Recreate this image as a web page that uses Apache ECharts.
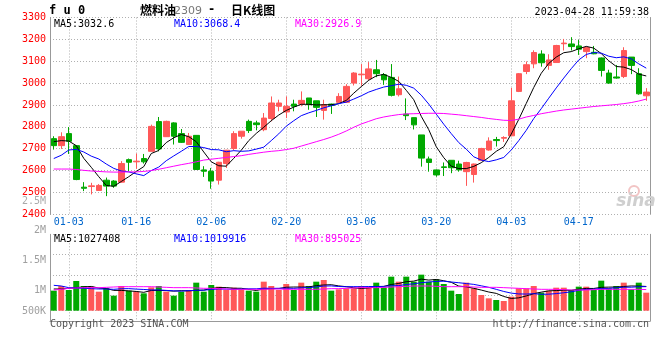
<!DOCTYPE html>
<html><head><meta charset="utf-8">
<script src="https://cdn.jsdelivr.net/npm/echarts@6/dist/echarts.min.js"></script>
<style>html,body{margin:0;padding:0;background:#fff}#c{width:660px;height:360px}</style>
</head><body><div id="c"></div>
<script>
// ---- data ----
const dates = ['12-29','12-30',
'01-03','01-04','01-05','01-06','01-09','01-10','01-11','01-12','01-13',
'01-16','01-17','01-18','01-19','01-20','01-30','01-31',
'02-01','02-02','02-03','02-06','02-07','02-08','02-09','02-10',
'02-13','02-14','02-15','02-16','02-17','02-20','02-21','02-22','02-23','02-24','02-27','02-28',
'03-01','03-02','03-03','03-06','03-07','03-08','03-09','03-10','03-13','03-14','03-15','03-16','03-17',
'03-20','03-21','03-22','03-23','03-24','03-27','03-28','03-29','03-30','03-31',
'04-03','04-04','04-06','04-07','04-10','04-11','04-12','04-13','04-14','04-17','04-18','04-19','04-20','04-21','04-24','04-25','04-26','04-27','04-28'];
const dateTickLabels = ['01-03','01-16','02-06','02-20','03-06','03-20','04-03','04-17'];

const opens = [2746,2714,2769,2714,2524,2527,2509,2556,2552,2547,
2650,2640,2655,2688,2824,2755,2818,2769,2719,2761,
2603,2597,2556,2632,2701,2757,2825,2818,2787,2838,
2894,2868,2904,2904,2932,2919,2875,2904,2912,2912,
3000,3038,3020,3061,3038,3026,2947,2858,2842,2763,
2653,2603,2617,2647,2630,2595,2582,2647,2694,2742,
2748,2759,2962,3053,3088,3133,3081,3094,3180,3179,
3170,3144,3141,3115,3046,3028,3030,3119,3043,2942];
const closes = [2714,2755,2734,2559,2519,2530,2532,2529,2529,2632,
2638,2643,2640,2802,2699,2825,2757,2729,2757,2605,
2597,2552,2638,2693,2769,2780,2783,2810,2840,2909,
2909,2894,2894,2921,2901,2889,2901,2898,2939,2985,
3046,3041,3065,3043,3015,2944,2974,2851,2809,2657,
2637,2580,2614,2613,2603,2637,2630,2701,2735,2737,
2751,2919,3043,3084,3140,3093,3106,3172,3183,3167,
3155,3163,3134,3058,3000,3023,3149,3081,2951,2959];
const lows = [2696,2699,2676,2556,2506,2491,2507,2483,2521,2544,
2597,2608,2632,2688,2688,2754,2719,2726,2719,2603,
2571,2517,2536,2612,2692,2746,2772,2784,2780,2825,
2871,2840,2871,2894,2878,2845,2833,2859,2909,2909,
2989,2988,3012,3027,2992,2939,2939,2831,2788,2618,
2595,2572,2575,2588,2595,2530,2545,2643,2691,2710,
2731,2757,2959,3041,3068,3075,3061,3094,3149,3149,
3129,3114,3132,3030,2997,3020,3023,3041,2947,2919];
const highs = [2757,2775,2799,2716,2547,2544,2538,2568,2556,2643,
2655,2678,2676,2810,2845,2828,2821,2790,2772,2761,
2620,2612,2640,2695,2780,2780,2833,2828,2863,2939,
2924,2939,2924,2962,2932,2919,2924,2906,2954,2995,
3050,3087,3096,3106,3046,3087,3030,2930,2843,2763,
2664,2605,2637,2647,2645,2640,2632,2704,2752,2754,
2757,2978,3046,3099,3150,3150,3132,3175,3202,3210,
3198,3167,3170,3117,3061,3083,3164,3119,3068,2977];

const ma5 = [2732,2737,2735,2714,2656,2615,2572,2532,2528,2550,
2572,2596,2618,2678,2692,2728,2750,2765,2755,2732,
2685,2640,2622,2620,2656,2693,2737,2770,2798,2828,
2854,2875,2890,2903,2903,2900,2901,2901,2906,2921,
2954,2984,3013,3033,3040,3026,3008,2967,2924,2848,
2787,2709,2659,2620,2609,2609,2619,2636,2660,2688,
2709,2767,2834,2907,2980,3045,3090,3119,3139,3144,
3157,3168,3160,3135,3102,3076,3073,3062,3041,3032.6];
const ma10 = [2655,2670,2694,2697,2685,2666,2653,2630,2610,2598,
2594,2585,2577,2600,2616,2645,2667,2688,2710,2710,
2705,2696,2695,2686,2691,2688,2690,2698,2707,2737,
2768,2803,2828,2851,2864,2875,2887,2896,2906,2913,
2927,2942,2959,2971,2982,2988,2995,2990,2977,2945,
2904,2858,2812,2769,2728,2698,2663,2648,2641,2649,
2660,2694,2737,2784,2838,2883,2931,2978,3023,3066,
3106,3131,3140,3137,3123,3116,3120,3111,3088,3068.4];
const ma30 = [2607,2607,2607,2605,2601,2598,2596,2594,2593,2593,
2594,2594,2596,2600,2606,2613,2620,2627,2633,2640,
2648,2652,2656,2660,2664,2668,2674,2679,2684,2688,
2691,2696,2702,2712,2722,2732,2742,2753,2766,2781,
2798,2813,2825,2837,2845,2851,2856,2859,2860,2861,
2862,2862,2861,2858,2855,2851,2847,2843,2838,2834,
2830,2829,2835,2845,2852,2860,2866,2872,2877,2881,
2885,2889,2893,2896,2899,2902,2906,2911,2918,2926.9];

// volume, thousands of lots
const vol = [849,1047,877,1258,1047,1018,806,948,637,1047,
849,806,736,990,1047,806,637,806,877,1188,
806,1089,1018,877,976,906,849,806,1230,1047,
877,1131,877,1188,1047,1230,1301,849,906,948,
948,1047,990,1188,990,1442,1230,1442,1230,1527,
1230,1329,1131,849,708,1188,948,665,524,453,
411,595,948,948,1047,764,849,976,976,877,
1018,1018,877,1272,948,1047,1188,906,1188,764];
const vma5 = [920,920,948,976,1007,1028,958,942,861,861,
839,815,778,858,858,852,830,849,840,863,
873,942,979,979,951,950,904,856,921,936,
937,994,1003,1003,1007,1063,1090,1101,1050,1017,
970,938,966,1013,1028,1111,1155,1229,1254,1338,
1297,1324,1269,1204,1043,1013,949,874,792,734,
603,518,545,626,722,787,840,854,867,864,
912,944,942,990,999,1003,1025,1048,1042,1027.408];
const vma10 = [1075,1047,976,962,948,934,920,920,906,930,
935,915,900,880,880,860,840,830,850,865,
868,900,922,915,908,914,928,928,955,945,
950,955,945,970,980,1005,1045,1050,1025,1015,
1020,1015,1025,1025,1030,1055,1065,1110,1140,1185,
1215,1240,1250,1215,1185,1150,1115,1055,990,905,
815,745,710,705,720,695,700,725,760,800,
865,905,910,940,945,970,995,995,1015,1019.916];
const vma30 = [877,906,948,962,976,976,976,990,1004,1018,
1018,1018,1018,1018,1004,990,976,976,976,962,
948,948,934,920,906,906,906,906,906,920,
920,906,906,906,906,906,920,934,934,948,
962,976,976,976,990,1004,1018,1032,1047,1047,
1047,1032,1018,1018,1018,1018,1004,990,990,990,
976,962,948,934,920,906,906,906,891,877,
877,877,891,906,906,906,906,906,906,895.025];

const priceMin = 2400, priceMax = 3300, priceStep = 100;
const volTickLabels = ['2M','1.5M','1M','500K'];
const volTickY = [230, 260, 290, 311];

// ---- chart ----
const RED = '#ff5858', GREEN = '#00a800';
const MONO = '"DejaVu Sans Mono", monospace';
const dotted = {color:'#b0b0b0', type:[1,2], width:1};
const isTick = (i, v) => dateTickLabels.indexOf(v) >= 0;
const last = a => a[a.length - 1];

const chart = echarts.init(document.getElementById('c'), null, {renderer:'canvas'});

function txt(text, x, y, fill, font, align, extra) {
  return Object.assign({type:'text', z:100, silent:true,
    style:{text, x, y, fill, font, textAlign:align||'left', textVerticalAlign:'middle',
           align:align||'left', verticalAlign:'middle'}}, extra||{});
}

const graphics = [
  txt('f u 0', 49, 11, '#000', 'bold 12px ' + MONO),
  txt('燃料油', 140, 10, '#000', 'bold 12px "Noto Sans CJK SC"'),
  txt('2309', 174, 11, '#777', '11px "DejaVu Sans"'),
  txt('-', 208, 10, '#000', 'bold 12px ' + MONO),
  txt('日K线图', 231, 10, '#000', 'bold 12px "Noto Sans CJK SC"'),
  txt('2023-04-28 11:59:38', 649, 12, '#000', '10px ' + MONO, 'right'),
  txt('MA5:' + last(ma5).toFixed(1), 54, 24, '#000', '10px ' + MONO),
  txt('MA10:' + last(ma10).toFixed(1), 174, 24, '#0000ff', '10px ' + MONO),
  txt('MA30:' + last(ma30).toFixed(1), 295, 24, '#ff00ff', '10px ' + MONO),
  txt('MA5:' + Math.round(last(vma5)*1000), 54, 239, '#000', '10px ' + MONO),
  txt('MA10:' + Math.round(last(vma10)*1000), 174, 239, '#0000ff', '10px ' + MONO),
  txt('MA30:' + Math.round(last(vma30)*1000), 295, 239, '#ff00ff', '10px ' + MONO),
  txt('2.5M', 46, 201, '#aaa', '10px ' + MONO, 'right'),
  txt('Copyright 2023 SINA.COM', 50, 324, '#555', '10px ' + MONO),
  txt('http://finance.sina.com.cn', 649, 324, '#555', '10px ' + MONO, 'right'),
  {type:'circle', z:90, silent:true, shape:{cx:634, cy:191, r:5}, style:{fill:'none', stroke:'#f2c4c4', lineWidth:2}},
  txt('sina', 636, 202, '#cfcfcf', 'italic bold 17px "DejaVu Sans"', 'center', {z:90})
];
volTickLabels.forEach((t, k) => graphics.push(txt(t, 46, volTickY[k], '#a0a0a0', '10px ' + MONO, 'right')));

const option = {
  animation: false,
  backgroundColor: '#fff',
  grid: [
    {left:50, top:17.5, width:600, height:196.8},
    {left:50, top:234.3, width:600, height:76.4},
    {left:50, top:234.3, width:600, height:86.7}
  ],
  xAxis: [
    {gridIndex:0, type:'category', data:dates, boundaryGap:true,
     axisLine:{show:false}, axisTick:{show:false},
     axisLabel:{interval:isTick, color:'#0066cc', fontFamily:'DejaVu Sans Mono', fontSize:10, margin:3},
     splitLine:{show:true, interval:isTick, alignWithLabel:true, lineStyle:dotted}},
    {gridIndex:1, type:'category', data:dates, boundaryGap:true,
     axisLine:{show:false}, axisTick:{show:false}, axisLabel:{show:false}, splitLine:{show:false}},
    {gridIndex:2, type:'category', data:dates, boundaryGap:true, position:'top',
     axisLine:{show:true, lineStyle:{color:'#999', width:1}}, axisTick:{show:false}, axisLabel:{show:false},
     splitLine:{show:true, interval:isTick, alignWithLabel:true, lineStyle:dotted}}
  ],
  yAxis: [
    {gridIndex:0, type:'value', min:priceMin, max:priceMax, interval:priceStep,
     axisLine:{show:true, lineStyle:{color:'#999'}}, axisTick:{show:false},
     axisLabel:{color:'#ff0000', fontFamily:'DejaVu Sans Mono', fontSize:10, margin:4, padding:[0,0,4,0],
                formatter: v => String(v)},
     splitLine:{show:true, lineStyle:dotted}},
    {gridIndex:0, type:'value', position:'right', min:priceMin, max:priceMax, interval:priceStep,
     axisLine:{show:true, lineStyle:{color:'#999'}}, axisTick:{show:false}, axisLabel:{show:false}, splitLine:{show:false}},
    {gridIndex:1, type:'value', min:0, max:3237,
     axisLine:{show:false}, axisTick:{show:false}, axisLabel:{show:false}, splitLine:{show:false}},
    {gridIndex:1, type:'value', position:'left', inverse:true, min:0, max:3.736, interval:1,
     axisLine:{show:false}, axisTick:{show:false}, axisLabel:{show:false}, splitLine:{show:true, lineStyle:dotted}},
    {gridIndex:2, type:'value', position:'left', min:0, max:1,
     axisLine:{show:true, lineStyle:{color:'#999'}}, axisTick:{show:false}, axisLabel:{show:false}, splitLine:{show:false}},
    {gridIndex:2, type:'value', position:'right', min:0, max:1,
     axisLine:{show:true, lineStyle:{color:'#999'}}, axisTick:{show:false}, axisLabel:{show:false}, splitLine:{show:false}}
  ],
  series: [
    {type:'candlestick', xAxisIndex:0, yAxisIndex:0, barWidth:6,
     data: dates.map((d, i) => [opens[i], closes[i], lows[i], highs[i]]),
     itemStyle:{color:RED, color0:GREEN, borderColor:RED, borderColor0:GREEN, borderWidth:1}},
    {type:'line', xAxisIndex:0, yAxisIndex:0, data:ma5, symbol:'none', lineStyle:{color:'#000', width:1}},
    {type:'line', xAxisIndex:0, yAxisIndex:0, data:ma10, symbol:'none', lineStyle:{color:'#0000ff', width:1}},
    {type:'line', xAxisIndex:0, yAxisIndex:0, data:ma30, symbol:'none', lineStyle:{color:'#ff00ff', width:1}},
    {type:'bar', xAxisIndex:1, yAxisIndex:2, barWidth:6, data:vol,
     itemStyle:{color: p => closes[p.dataIndex] >= opens[p.dataIndex] ? RED : GREEN}},
    {type:'line', xAxisIndex:1, yAxisIndex:2, data:vma5, symbol:'none', lineStyle:{color:'#000', width:1}},
    {type:'line', xAxisIndex:1, yAxisIndex:2, data:vma10, symbol:'none', lineStyle:{color:'#0000ff', width:1}},
    {type:'line', xAxisIndex:1, yAxisIndex:2, data:vma30, symbol:'none', lineStyle:{color:'#ff00ff', width:1}}
  ],
  graphic: graphics
};
chart.setOption(option);
</script></body></html>
